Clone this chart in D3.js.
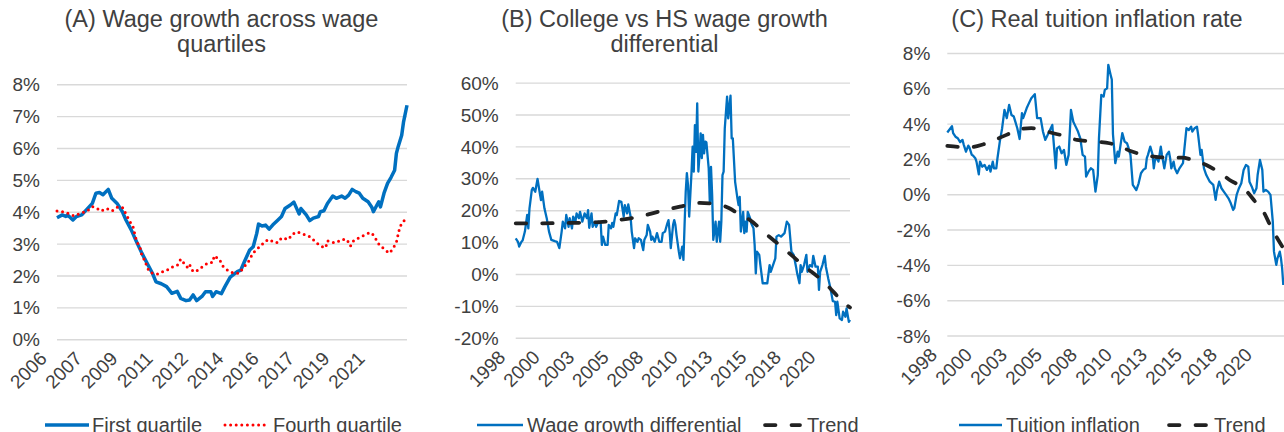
<!DOCTYPE html>
<html><head><meta charset="utf-8">
<script src="https://cdn.jsdelivr.net/npm/d3@7"></script>
<style>
body{margin:0;background:#fff;}
svg{display:block;font-family:"Liberation Sans",Arial,sans-serif;}
</style></head><body>
<svg id="c" width="1284" height="432"></svg>
<script>
// ================= DATA =================
// Panel A: monthly index from Jan 2006 (0) to Jul 2022 (198)
const quartileMonthCount = 199;
const quartileTickEvery = 20;
const quartileTickLabels = ["2006","2007","2009","2011","2012","2014","2016","2017","2019","2021"];
// [month index, wage growth %]
const firstQuartile = [[0,3.81],[3,3.9],[5,3.85],[6,3.9],[9,3.74],[11,3.85],[14,3.9],[17,4.08],[20,4.26],[22,4.58],[24,4.6],[26,4.53],[29,4.7],[31,4.42],[34,4.26],[37,4.0],[39,3.74],[42,3.43],[45,3.06],[48,2.7],[51,2.38],[54,2.07],[56,1.8],[59,1.74],[62,1.65],[65,1.44],[68,1.5],[70,1.28],[73,1.21],[75,1.23],[77,1.39],[79,1.21],[82,1.34],[84,1.49],[87,1.49],[88,1.34],[90,1.49],[93,1.43],[95,1.65],[98,1.95],[102,2.12],[104,2.17],[106,2.43],[109,2.8],[111,2.9],[113,3.32],[114,3.61],[116,3.55],[118,3.58],[120,3.45],[122,3.58],[125,3.74],[127,3.85],[129,4.1],[132,4.21],[134,4.3],[136,4.05],[137,3.93],[138,4.1],[141,3.9],[143,3.72],[145,3.8],[148,3.85],[149,4.0],[151,4.03],[153,4.26],[156,4.49],[158,4.42],[161,4.49],[163,4.42],[165,4.52],[167,4.7],[169,4.63],[171,4.58],[173,4.42],[176,4.31],[178,4.15],[179,4.0],[181,4.21],[182,4.31],[183,4.15],[185,4.58],[187,4.89],[189,5.08],[191,5.3],[192,5.83],[193,6.04],[195,6.4],[196,6.8],[198,7.34]];
const fourthQuartile = [[0,4.02],[5,3.98],[8,3.9],[10,3.87],[13,3.95],[17,4.02],[20,4.16],[22,4.13],[25,4.02],[28,4.1],[31,4.02],[34,4.14],[37,4.14],[39,3.93],[41,3.71],[43,3.53],[44,3.3],[45,3.08],[47,2.87],[48,2.64],[50,2.43],[51,2.24],[53,2.09],[57,2.04],[60,2.12],[62,2.15],[64,2.24],[68,2.31],[70,2.51],[72,2.37],[74,2.24],[75,2.34],[77,2.12],[80,2.17],[83,2.31],[86,2.41],[88,2.4],[89,2.62],[92,2.49],[94,2.28],[97,2.14],[100,2.07],[103,2.07],[106,2.28],[108,2.4],[110,2.61],[112,2.77],[115,2.92],[118,3.08],[120,3.13],[123,3.03],[125,3.03],[127,3.18],[131,3.13],[133,3.29],[136,3.37],[139,3.3],[142,3.25],[144,3.17],[147,3.01],[150,2.9],[152,2.87],[153,3.09],[156,3.03],[158,3.03],[161,3.13],[164,3.13],[166,2.92],[168,3.11],[171,3.18],[173,3.24],[176,3.32],[178,3.34],[180,3.18],[182,2.99],[185,2.83],[188,2.7],[190,2.83],[192,3.04],[193,3.29],[194,3.53],[196,3.71],[198,3.75]];

// Panels B and C: monthly index from Jan 1998 (0) to Apr 2022 (291)
const longMonthCount = 292;
const longTickEvery = 30;
const longTickLabels = ["1998","2000","2003","2005","2008","2010","2013","2015","2018","2020"];
// [month index, College vs HS wage growth differential %]
const wageDiff = [[0,11.2],[2,10.1],[3,8.6],[5,10.1],[6,10.5],[8,13.3],[10,18.5],[11,14.3],[12,20.6],[14,26.3],[15,27],[17,25.8],[19,29.8],[21,25.3],[22,23.2],[23,25.8],[25,20.6],[27,17.5],[29,13.3],[31,10.7],[34,10.3],[36,10.1],[38,8.1],[40,13.3],[41,16.4],[43,14.3],[44,18.5],[46,14.8],[47,17.5],[49,14.3],[50,18],[52,16.4],[53,19],[55,17.5],[56,19.5],[58,16.4],[60,19],[62,17.5],[63,20],[64,14.5],[66,19],[67,14.8],[69,16.4],[70,14.8],[72,16.4],[74,15.9],[75,9.1],[76,11.7],[78,9.1],[80,9.1],[81,15.4],[83,14.3],[84,16],[85,14.8],[87,19],[88,18.5],[90,22.9],[92,22.6],[94,18],[95,21.6],[97,19],[98,21.8],[100,18],[101,13.3],[103,8.1],[104,11.2],[106,10.1],[107,11.2],[109,10.7],[110,9.1],[111,7.5],[112,10.7],[114,12.2],[115,15.4],[117,13.3],[118,10.7],[119,11.7],[121,10.1],[123,12.8],[125,10.1],[127,10.1],[128,12.8],[130,13.3],[132,15.9],[133,16.9],[134,13.3],[135,8.1],[137,15.4],[138,16.9],[139,15.4],[140,12.2],[142,7],[143,4.9],[145,8.6],[146,4.4],[147,15.4],[148,25.8],[149,31.6],[150,27.9],[151,18],[152,24.8],[153,31.6],[154,39.9],[155,32.1],[156,46.7],[157,38.3],[158,53.5],[159,32.1],[160,37.3],[161,44.1],[162,36.3],[163,43.6],[164,37.8],[165,41.5],[166,41.3],[168,33.1],[169,22.2],[170,33.6],[171,24.8],[172,10.7],[174,16.4],[175,10.1],[177,16.4],[178,10.1],[179,16.4],[180,31],[181,32.1],[182,45.7],[184,55.6],[185,48.8],[187,55.9],[188,42.5],[189,42.5],[191,28.9],[193,23.7],[194,21.6],[195,24.2],[196,13.3],[198,19.5],[199,12.8],[200,16.4],[201,13.3],[202,19.5],[204,17.5],[205,15.9],[207,14.3],[208,9.1],[209,0.2],[210,7],[212,6],[213,2.8],[215,-2.9],[219,-2.9],[221,2.8],[222,0.7],[224,2.8],[226,4.9],[227,11.7],[229,12.2],[231,11.7],[234,12.8],[236,16.4],[238,15.4],[240,7],[242,6],[244,2.3],[245,0.2],[247,-2.9],[248,2.8],[249,0.7],[251,2.8],[253,6],[254,0.7],[256,2.8],[258,2.3],[259,5.7],[261,2.3],[263,2.3],[264,-5],[265,0.7],[267,2.8],[269,5.7],[270,2.3],[272,-1.3],[274,-4.5],[276,-8.5],[278,-8.7],[279,-12.9],[280,-8.7],[282,-13.9],[284,-14.4],[285,-11.8],[287,-13.4],[288,-10.8],[290,-15],[291,-14.4]];
const wageDiffTrend = [[0,15.9],[21,15.9],[47,16.0],[73,16.3],[91,17.0],[108,18.0],[125,19.6],[143,21.1],[160,22.3],[178,21.7],[186,20.6],[195,18.6],[204,16.9],[218,12.5],[233,8.1],[250,2.8],[268,-2.4],[288,-9.7],[291,-10.5]];
// [month index, real tuition inflation %]
const tuition = [[0,3.5],[4,3.85],[5,3.46],[7,3.26],[9,3.17],[11,2.95],[13,3.08],[14,2.83],[16,2.41],[18,2.75],[19,2.64],[21,2.23],[22,2.19],[24,2.04],[25,1.85],[27,1.13],[28,1.85],[30,1.56],[32,1.66],[34,1.38],[36,1.62],[37,1.28],[39,1.85],[40,1.47],[42,1.47],[43,2.04],[45,2.98],[47,3.74],[49,4.78],[51,4.31],[53,5.06],[55,4.49],[57,4.4],[60,3.74],[62,3.13],[64,4.59],[65,4.31],[68,4.87],[70,5.16],[72,5.44],[75,5.67],[77,4.31],[80,4.31],[82,3.55],[84,3.08],[86,3.36],[88,3.64],[90,3.93],[91,3.08],[93,1.47],[94,2.6],[96,2.7],[98,2.32],[100,2.51],[102,1.66],[104,2.23],[106,4.78],[108,4.11],[110,3.83],[112,3.55],[114,3.17],[116,2.23],[118,2.13],[119,1.0],[121,1.28],[123,1.47],[125,1.38],[127,0.15],[129,1.09],[130,3.17],[132,5.63],[134,5.53],[135,5.91],[137,6.0],[138,7.33],[140,6.76],[141,6.5],[142,3.4],[144,1.76],[146,2.41],[147,2.13],[150,3.46],[152,2.98],[154,2.89],[155,2.7],[157,2.23],[159,0.53],[162,0.24],[164,0.62],[166,1.19],[168,1.38],[170,1.47],[171,2.04],[172,2.23],[174,2.7],[176,2.23],[177,1.47],[178,1.94],[180,2.04],[181,1.85],[183,2.7],[184,2.23],[186,1.47],[188,2.23],[190,2.41],[191,2.04],[192,1.47],[194,1.85],[195,1.47],[197,1.19],[199,1.47],[202,1.76],[205,3.74],[207,3.64],[209,3.83],[210,3.55],[212,3.74],[214,3.83],[215,3.36],[217,2.23],[218,2.51],[220,1.47],[222,1.09],[225,0.71],[228,0.53],[230,-0.32],[231,0.15],[233,0.71],[235,0.34],[237,0.15],[239,-0.04],[241,-0.23],[243,-0.51],[245,-0.89],[246,-0.79],[248,-0.04],[250,0.34],[252,0.62],[254,1.38],[256,1.66],[258,1.56],[259,0.71],[261,0.43],[263,0.06],[265,0.34],[266,1.09],[268,1.94],[270,1.38],[271,0.15],[273,0.24],[275,0.15],[277,-0.04],[279,-1.55],[280,-3.25],[282,-4.0],[283,-3.63],[285,-3.25],[286,-3.63],[287,-4.19],[288,-5.14]];
const tuitionTrend = [[0,2.74],[19,2.66],[31,2.83],[44,3.17],[52,3.4],[64,3.7],[72,3.74],[85,3.55],[97,3.36],[111,3.08],[127,2.98],[139,2.89],[148,2.7],[157,2.45],[168,2.23],[177,2.13],[191,2.07],[201,2.07],[214,1.85],[222,1.66],[234,1.19],[242,0.81],[254,0.34],[265,-0.51],[271,-0.99],[278,-1.93],[282,-2.4],[288,-3.06]];

const titles = [["(A) Wage growth across wage","quartiles"],["(B) College vs HS wage growth","differential"],["(C) Real tuition inflation rate"]];

// ================= LAYOUT / STYLE =================
const TEXT = "#404040", GRID = "#d9d9d9", BLUE = "#0070C0", RED = "#FF0000", BLACK = "#222222";
const styles = {
  blueThick: {stroke: BLUE, width: 3.5},
  blueThin:  {stroke: BLUE, width: 2.3},
  redDots:   {stroke: RED, width: 3, dash: "0 5.6", cap: "round"},
  trend:     {stroke: BLACK, width: 3.75, dash: "10.5 16", cap: "round", curve: true}
};
const panels = [
  {x0:57, x1:407, yTop:84.2, yBot:339.2, yMin:0, yMax:8, yStep:1, n:quartileMonthCount,
   tickEvery:quartileTickEvery, tickLabels:quartileTickLabels, titleX:221.5, title:titles[0],
   series:[{data:firstQuartile, st:styles.blueThick},{data:fourthQuartile, st:styles.redDots}],
   legend:[{label:"First quartile", st:styles.blueThick, lx0:45, lx1:89, tx:92},
           {label:"Fourth quartile", st:styles.redDots, lx0:225, lx1:267, tx:273}]},
  {x0:515.7, x1:850, yTop:82.6, yBot:337.8, yMin:-20, yMax:60, yStep:10, n:longMonthCount,
   tickEvery:longTickEvery, tickLabels:longTickLabels, titleX:664.5, title:titles[1],
   series:[{data:wageDiff, st:styles.blueThin},{data:wageDiffTrend, st:styles.trend}],
   legend:[{label:"Wage growth differential", st:styles.blueThin, lx0:477, lx1:523, tx:527},
           {label:"Trend", st:styles.trend, lx0:765, lx1:800, tx:807}]},
  {x0:947.3, x1:1286.8, yTop:53, yBot:335.5, yMin:-8, yMax:8, yStep:2, n:longMonthCount,
   tickEvery:longTickEvery, tickLabels:longTickLabels, titleX:1097, title:titles[2],
   series:[{data:tuition, st:styles.blueThin},{data:tuitionTrend, st:styles.trend}],
   legend:[{label:"Tuition inflation", st:styles.blueThin, lx0:959, lx1:1002, tx:1006},
           {label:"Trend", st:styles.trend, lx0:1169, lx1:1206, tx:1214}]}
];

const svg = d3.select("#c");
svg.append("rect").attr("width",1284).attr("height",432).attr("fill","#fff");

function applyStroke(sel, st){
  sel.attr("fill","none").attr("stroke",st.stroke).attr("stroke-width",st.width)
     .attr("stroke-linejoin","round")
     .attr("stroke-linecap", st.cap || "butt");
  if(st.dash) sel.attr("stroke-dasharray", st.dash);
}

panels.forEach(p => {
  const g = svg.append("g");
  const x = d3.scaleLinear().domain([0, p.n-1]).range([p.x0, p.x1]);
  const y = d3.scaleLinear().domain([p.yMin, p.yMax]).range([p.yBot, p.yTop]);
  const yTicks = d3.range(p.yMin, p.yMax + p.yStep/2, p.yStep);

  // y axis with gridlines
  const ya = g.append("g").attr("transform",`translate(${p.x0},0)`)
    .call(d3.axisLeft(y).tickValues(yTicks).tickSize(-(p.x1-p.x0)).tickPadding(17)
          .tickFormat(d => `${d}%`));
  ya.select(".domain").remove();
  ya.selectAll(".tick line").attr("stroke",GRID).attr("stroke-width",1.4);
  ya.selectAll(".tick text").attr("fill",TEXT).attr("font-size",19)
    .attr("font-family",'"Liberation Sans",Arial,sans-serif').attr("dy","0.35em");

  // x axis (category-style labels)
  const tickIdx = p.tickLabels.map((_,i) => i*p.tickEvery);
  const xa = g.append("g").attr("transform",`translate(0,${p.yBot})`)
    .call(d3.axisBottom(x).tickValues(tickIdx).tickSize(0)
          .tickFormat((d,i) => p.tickLabels[i]));
  xa.select(".domain").remove();
  xa.selectAll(".tick text").attr("fill",TEXT).attr("font-size",19)
    .attr("font-family",'"Liberation Sans",Arial,sans-serif')
    .attr("x",0).attr("y",0).attr("dy",0)
    .attr("text-anchor","end")
    .attr("transform","translate(-9.6,20.6) rotate(-45)");

  // series
  p.series.forEach(s => {
    const line = d3.line().x(d => x(d[0])).y(d => y(d[1]))
      .curve(s.st.curve ? d3.curveMonotoneX : d3.curveLinear);
    g.append("path").datum(s.data).attr("d", line).call(applyStroke, s.st);
  });

  // title
  const t = g.append("text").attr("x",p.titleX).attr("text-anchor","middle")
    .attr("fill",TEXT).attr("font-size",23.5);
  p.title.forEach((ln,i) => t.append("tspan").attr("x",p.titleX).attr("y",27 + i*25).text(ln));

  // legend
  p.legend.forEach(L => {
    g.append("line").attr("x1",L.lx0).attr("x2",L.lx1).attr("y1",425).attr("y2",425).call(applyStroke, L.st);
    g.append("text").attr("x",L.tx).attr("y",431.5).attr("fill",TEXT).attr("font-size",20).text(L.label);
  });
});
</script>
</body></html>
